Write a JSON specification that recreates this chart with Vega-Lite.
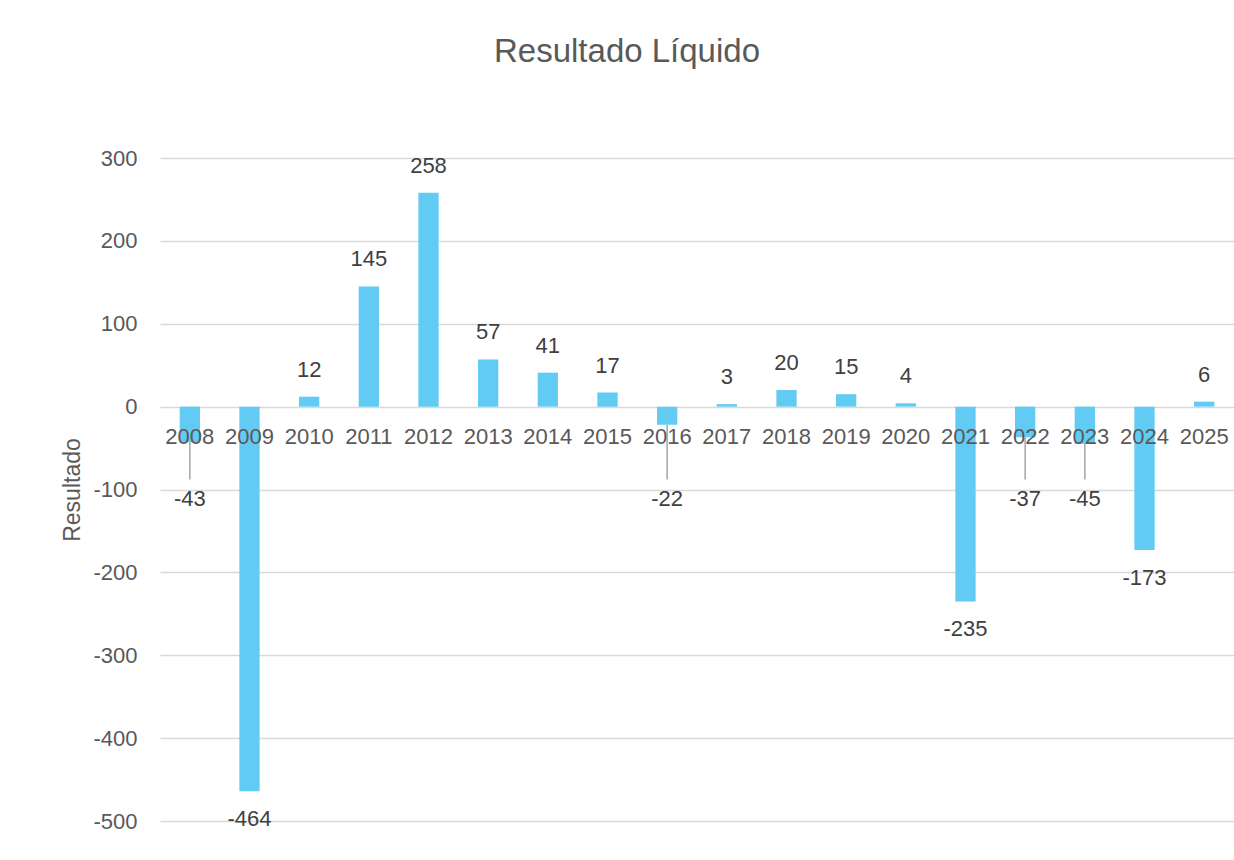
{
  "$schema": "https://vega.github.io/schema/vega-lite/v6.json",
  "autosize": "none",
  "padding": {"left": 160, "top": 158, "right": 0, "bottom": 39},
  "width": 1074,
  "height": 663,
  "background": "white",
  "title": {
    "text": "Resultado Líquido",
    "fontSize": 33,
    "font": "Liberation Sans",
    "fontWeight": "normal",
    "color": "#595959",
    "anchor": "middle",
    "baseline": "alphabetic",
    "offset": 52,
    "dx": -70
  },
  "data": {
    "values": [
      {"ano": "2008", "resultado": -43},
      {"ano": "2009", "resultado": -464},
      {"ano": "2010", "resultado": 12},
      {"ano": "2011", "resultado": 145},
      {"ano": "2012", "resultado": 258},
      {"ano": "2013", "resultado": 57},
      {"ano": "2014", "resultado": 41},
      {"ano": "2015", "resultado": 17},
      {"ano": "2016", "resultado": -22},
      {"ano": "2017", "resultado": 3},
      {"ano": "2018", "resultado": 20},
      {"ano": "2019", "resultado": 15},
      {"ano": "2020", "resultado": 4},
      {"ano": "2021", "resultado": -235},
      {"ano": "2022", "resultado": -37},
      {"ano": "2023", "resultado": -45},
      {"ano": "2024", "resultado": -173},
      {"ano": "2025", "resultado": 6}
    ]
  },
  "encoding": {
    "x": {
      "field": "ano",
      "type": "nominal",
      "sort": null,
      "axis": null,
      "scale": {"paddingInner": 0.66, "paddingOuter": 0.33}
    }
  },
  "layer": [
    {
      "mark": {"type": "bar", "color": "#61CBF3"},
      "encoding": {
        "y": {
          "field": "resultado",
          "type": "quantitative",
          "title": "Resultado",
          "scale": {"domain": [-500, 300], "nice": false, "zero": true},
          "axis": {
            "values": [-500, -400, -300, -200, -100, 0, 100, 200, 300],
            "labelExpr": "replace(datum.label, '−', '-')",
            "domain": false,
            "ticks": false,
            "grid": true,
            "gridColor": "#D9D9D9",
            "gridWidth": 1.5,
            "labelFont": "Liberation Sans",
            "labelFontSize": 22,
            "labelColor": "#595959",
            "labelPadding": 23,
            "titleFont": "Liberation Sans",
            "titleFontSize": 23,
            "titleFontWeight": "normal",
            "titleColor": "#595959",
            "titlePadding": 8
          }
        }
      }
    },
    {
      "transform": [{"filter": "datum.resultado < 0 && datum.resultado > -100"}],
      "mark": {"type": "rule", "color": "#A6A6A6", "strokeWidth": 1.5},
      "encoding": {
        "y": {"field": "resultado", "type": "quantitative"},
        "y2": {"datum": -88}
      }
    },
    {
      "mark": {"type": "text", "font": "Liberation Sans", "fontSize": 22, "color": "#595959", "baseline": "middle", "dy": 30},
      "encoding": {
        "y": {"datum": 0},
        "text": {"field": "ano"}
      }
    },
    {
      "transform": [{"filter": "datum.resultado >= 0"}],
      "mark": {"type": "text", "font": "Liberation Sans", "fontSize": 22, "color": "#404040", "baseline": "middle", "dy": -27},
      "encoding": {
        "y": {"field": "resultado", "type": "quantitative"},
        "text": {"field": "resultado"}
      }
    },
    {
      "transform": [{"filter": "datum.resultado <= -100"}],
      "mark": {"type": "text", "font": "Liberation Sans", "fontSize": 22, "color": "#404040", "baseline": "middle", "dy": 28},
      "encoding": {
        "y": {"field": "resultado", "type": "quantitative"},
        "text": {"field": "resultado"}
      }
    },
    {
      "transform": [{"filter": "datum.resultado < 0 && datum.resultado > -100"}],
      "mark": {"type": "text", "font": "Liberation Sans", "fontSize": 22, "color": "#404040", "baseline": "middle"},
      "encoding": {
        "y": {"datum": -111},
        "text": {"field": "resultado"}
      }
    }
  ],
  "config": {
    "view": {"stroke": null}
  }
}
